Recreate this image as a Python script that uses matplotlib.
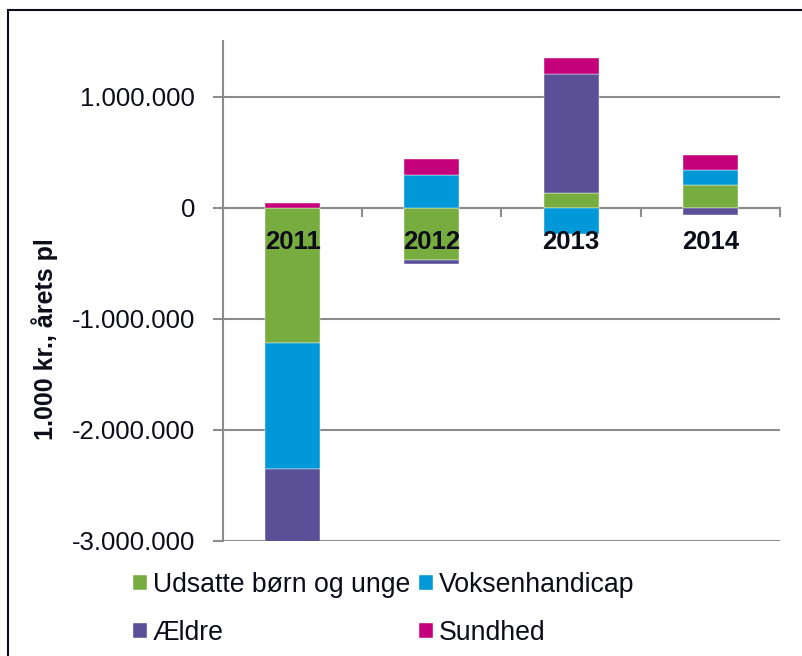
import matplotlib
matplotlib.use("Agg")
import matplotlib.pyplot as plt
from matplotlib.ticker import FuncFormatter, FixedLocator
from matplotlib.patches import Rectangle
import numpy as np

plt.rcParams['font.family'] = ['Liberation Sans', 'DejaVu Sans']

years = ['2011', '2012', '2013', '2014']
series_names = ['Udsatte børn og unge', 'Voksenhandicap', 'Ældre', 'Sundhed']
udsatte = [-1215000, -470000, 130000, 205000]
voksen = [-1135000, 290000, -240000, 136000]
aeldre = [-700000, -36000, 1070000, -70000]
sundhed = [45000, 148000, 148000, 136000]
colors = ['#77AC3E', '#0098D6', '#5B4F98', '#C4007A']
y_ticks = [-3000000, -2000000, -1000000, 0, 1000000]

txt_col = '#0d0d1a'
fig = plt.figure(figsize=(8.03, 6.56), dpi=100)
ax = fig.add_axes([223/803, 1-541/656, (780-223)/803, (541-41)/656])

x = np.arange(len(years))
pos_base = np.zeros(len(years))
neg_base = np.zeros(len(years))
bars = []
for vals, col, name in zip([udsatte, voksen, aeldre, sundhed], colors, series_names):
    v = np.array(vals, dtype=float)
    base = np.where(v >= 0, pos_base, neg_base)
    b = ax.bar(x, v, bottom=base, width=0.395, color=col, label=name,
               edgecolor='white', linewidth=0.3, zorder=3)
    bars.append(b)
    pos_base = pos_base + np.where(v >= 0, v, 0)
    neg_base = neg_base + np.where(v < 0, v, 0)

ax.set_xlim(-0.5, len(years) - 0.5)
ax.set_ylim(-3000000, 1500000)
ax.yaxis.set_major_locator(FixedLocator(y_ticks))
ax.yaxis.set_major_formatter(FuncFormatter(lambda v, p: f"{int(v):,}".replace(',', '.')))
grid_col = '#8c8c8c'
ax.grid(axis='y', color=grid_col, linewidth=1.5, zorder=0)
ax.set_axisbelow(True)
for s in ['top', 'right', 'bottom']:
    ax.spines[s].set_visible(False)
ax.spines['left'].set_color(grid_col)
ax.spines['left'].set_linewidth(1.5)
ax.tick_params(axis='y', length=7, width=1.5, color=grid_col, labelsize=18.5,
               labelcolor=txt_col, pad=13)

# x axis at zero with category-boundary ticks
ax.axhline(0, color=grid_col, linewidth=1.5, zorder=2)
ax.set_xticks([])
for bnd in np.arange(-0.5, len(years), 1.0)[1:]:
    ax.plot([bnd, bnd], [0, -75000], color=grid_col, linewidth=1.5, zorder=2, clip_on=False)
for xi, yr in zip(x, years):
    ax.text(xi, -308000, yr, ha='center', va='center', fontsize=18.5,
            fontweight='bold', color=txt_col, zorder=5)

fig.text(45/803, 1-339/656, '1.000 kr., årets pl', rotation=90, ha='center',
         va='center', fontsize=18, fontweight='bold', color=txt_col)

# legend: row 1 Udsatte, Voksenhandicap; row 2 Ældre, Sundhed
order = [0, 2, 1, 3]
handles = [bars[i] for i in order]
labels = [series_names[i] for i in order]
leg = fig.legend(handles, labels, loc='upper left', bbox_to_anchor=(133/803, 1-572/656),
                 ncol=2, frameon=False, fontsize=19.2, handlelength=0.52, handleheight=0.52,
                 handletextpad=0.22, columnspacing=0.34, labelspacing=0.82,
                 labelcolor=txt_col, borderaxespad=0, borderpad=0)

fig.patches.append(Rectangle((8/803, -0.05), 1.2, 1-10/656+0.05, transform=fig.transFigure,
                             fill=False, edgecolor=txt_col, linewidth=1.5))

fig.savefig('out.png', dpi=100)
